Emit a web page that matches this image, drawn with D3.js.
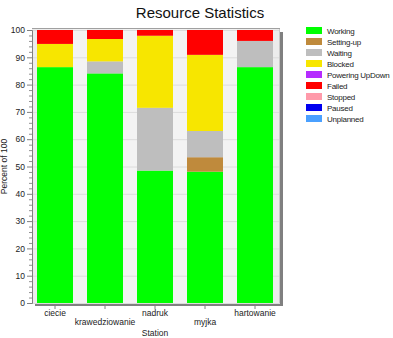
<!DOCTYPE html>
<html><head><meta charset="utf-8">
<script src="https://cdn.jsdelivr.net/npm/d3@7"></script>
<style>body{margin:0;background:#fff;}svg{display:block;font-family:"Liberation Sans",Arial,sans-serif;}</style>
</head><body><svg id="c" width="393" height="338"></svg>
<script>
const stations = ["ciecie","krawedziowanie","nadruk","myjka","hartowanie"];
const states = ["Working","Setting-up","Waiting","Blocked","Powering UpDown","Failed","Stopped","Paused","Unplanned"];
const colors = ["#00ff00","#bf8a3c","#bebebe","#f7e600","#b52cff","#ff0000","#ff9aaa","#0000f0","#4aa0ff"];
const working    = [86.4, 84.1, 48.5, 48.1, 86.4];
const settingUp  = [0, 0, 0, 5.3, 0];
const waiting    = [0, 4.4, 23.0, 9.6, 9.6];
const blocked    = [8.5, 8.2, 26.4, 27.9, 0];
const poweringUD = [0, 0, 0, 0, 0];
const failed     = [5.1, 3.3, 2.1, 9.1, 4.0];
const stopped    = [0, 0, 0, 0, 0];
const paused     = [0, 0, 0, 0, 0];
const unplanned  = [0, 0, 0, 0, 0];
const yTicks = [0,10,20,30,40,50,60,70,80,90,100];

const series = [working,settingUp,waiting,blocked,poweringUD,failed,stopped,paused,unplanned];
const rows = stations.map((s,i)=>{const r={station:s}; states.forEach((k,j)=>r[k]=series[j][i]); return r;});

const svg = d3.select("#c");
const L=32, R=280, T=30, B=303;
const x = d3.scaleBand().domain(stations).range([30,280]).paddingInner(0.28).paddingOuter(0.14);
const y = d3.scaleLinear().domain([0,100]).range([B,T]);

// title
svg.append("text").attr("x",200).attr("y",18).attr("text-anchor","middle").attr("font-size",15).attr("fill","#111").text("Resource Statistics");

// shadow
svg.append("rect").attr("x",R).attr("y",T+2).attr("width",3).attr("height",B-T+1).attr("fill","#808080");
svg.append("rect").attr("x",L+3).attr("y",B).attr("width",R-L).attr("height",3).attr("fill","#808080");
// background
svg.append("rect").attr("x",L).attr("y",T-1).attr("width",R-L).attr("height",B-T+1).attr("fill","#ececec");
stations.forEach((s,i)=>{
  if(i<stations.length-1){
    const x0 = x(s)+x.bandwidth(), x1 = x(stations[i+1]);
    svg.append("rect").attr("x",x0).attr("y",T-1).attr("width",x1-x0).attr("height",B-T+1).attr("fill","#f3f3f3");
  }
});
// gridlines
svg.append("g").selectAll("line").data(yTicks).join("line")
  .attr("x1",L).attr("x2",R).attr("y1",d=>y(d)+0.5).attr("y2",d=>y(d)+0.5).attr("stroke","#dcdcdc");
svg.append("line").attr("x1",L).attr("x2",R).attr("y1",T-1.5).attr("y2",T-1.5).attr("stroke","#a0a0a0");
svg.append("line").attr("x1",R-0.5).attr("x2",R-0.5).attr("y1",T-1).attr("y2",B).attr("stroke","#c8c8c8");

// bars
const stack = d3.stack().keys(states)(rows);
svg.append("g").selectAll("g").data(stack).join("g").attr("fill",(d,i)=>colors[i])
  .selectAll("rect").data(d=>d.filter(v=>v[1]-v[0]>0)).join("rect")
  .attr("x",d=>x(d.data.station)).attr("width",x.bandwidth())
  .attr("y",d=>y(d[1])).attr("height",d=>y(d[0])-y(d[1]));

// y axis
const ya = svg.append("g").attr("transform",`translate(${L},0)`)
  .call(d3.axisLeft(y).tickValues(yTicks).tickSize(5).tickPadding(2));
ya.select(".domain").attr("stroke","#808080");
ya.selectAll(".tick line").attr("stroke","#808080");
ya.selectAll("text").attr("font-size",8.5).attr("fill","#222").attr("font-family","Liberation Sans, Arial, sans-serif");
const minor = d3.range(0,101,2).filter(v=>v%10!==0);
svg.append("g").selectAll("line").data(minor).join("line")
  .attr("x1",L-3).attr("x2",L).attr("y1",d=>y(d)+0.5).attr("y2",d=>y(d)+0.5).attr("stroke","#909090");

// x axis
const xa = svg.append("g").attr("transform",`translate(0,${B+3})`)
  .call(d3.axisBottom(x).tickSize(3).tickPadding(1));
xa.select(".domain").remove();
xa.selectAll(".tick line").attr("stroke","#808080");
xa.selectAll("text").attr("font-size",8.5).attr("fill","#222").attr("font-family","Liberation Sans, Arial, sans-serif")
  .attr("dy",(d,i)=> i%2 ? "1.75em" : "0.71em");

// axis titles
svg.append("text").attr("x",155).attr("y",336).attr("text-anchor","middle").attr("font-size",8.5).attr("fill","#222").text("Station");
svg.append("text").attr("transform",`translate(7,${(T+B)/2}) rotate(-90)`).attr("text-anchor","middle").attr("font-size",8.5).attr("fill","#222").text("Percent of 100");

// legend
const lg = svg.append("g").attr("transform","translate(306,27)");
const it = lg.selectAll("g").data(states).join("g").attr("transform",(d,i)=>`translate(0,${i*11})`);
it.append("rect").attr("width",16).attr("height",7).attr("fill",(d,i)=>colors[i]);
it.append("text").attr("x",21).attr("y",7).attr("font-size",8).attr("letter-spacing",-0.25).attr("fill","#222").text(d=>d);
</script></body></html>
